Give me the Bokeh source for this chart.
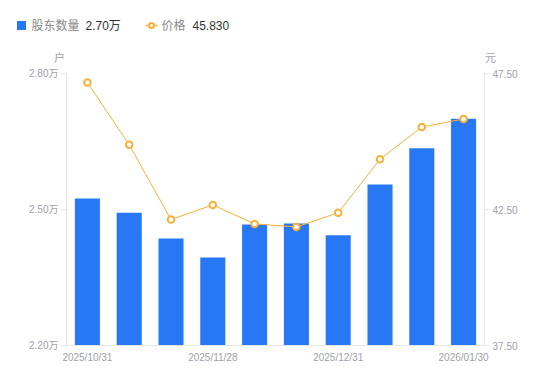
from bokeh.plotting import figure
from bokeh.layouts import column, row
from bokeh.models import (Range1d, LinearAxis, FixedTicker, CustomJSTickFormatter, ColumnDataSource)
from bokeh.core.properties import value
from bokeh.embed import file_html
from bokeh.resources import INLINE

# ---- data ----
holders = [2.524, 2.493, 2.436, 2.394, 2.467, 2.469, 2.443, 2.555, 2.635, 2.700]   # 万户
prices = [47.17, 44.88, 42.13, 42.67, 41.97, 41.86, 42.38, 44.35, 45.53, 45.83]    # 元
tick_positions = [0, 3, 6, 9]
tick_labels = ["2025/10/31", "2025/11/28", "2025/12/31", "2026/01/30"]
left_ticks = [2.20, 2.50, 2.80]
right_ticks = [37.50, 42.50, 47.50]
series_names = ["股东数量", "价格"]
legend_values = ["2.70万", "45.830"]
units = ["户", "元"]

BLUE = "#2878f5"
ORANGE = "#f9b03a"
AXIS = "#e6e6e6"
LABEL = "#a0a0aa"
FONT = "Liberation Sans, Noto Sans CJK SC"

W = 542
HEAD_H = 66

# ---------------- header (legend + unit labels) ----------------
h = figure(width=W, height=HEAD_H, output_backend="svg", toolbar_location=None,
           x_range=Range1d(0, W), y_range=Range1d(HEAD_H, 0),
           x_axis_type=None, y_axis_type=None, min_border=0)
h.outline_line_color = None
h.xgrid.grid_line_color = None
h.ygrid.grid_line_color = None

h.rect(x=[21], y=[25], width=9, height=9, fill_color=BLUE, line_color=None)
h.line(x=[145, 157], y=[25, 25], line_color=ORANGE, line_width=1.5)
h.scatter(x=[151], y=[25], size=5, marker="circle", fill_color="white",
          line_color=ORANGE, line_width=2)
h.text(x=[31, 161], y=[25, 25], text=series_names, text_font=value(FONT),
       text_font_size="12px", text_color="#8a8a8a", text_baseline="middle", text_align="left")
h.text(x=[85, 192], y=[25, 25], text=legend_values, text_font=value(FONT),
       text_font_size="12px", text_color="#333333", text_baseline="middle", text_align="left")
h.text(x=[59, 490], y=[57, 57], text=units, text_font=value(FONT),
       text_font_size="11px", text_color=LABEL, text_baseline="middle", text_align="center")

# ---------------- main chart ----------------
x = list(range(len(holders)))
src = ColumnDataSource(dict(x=x, holders=holders, prices=prices))

p = figure(width=W, height=373 - HEAD_H, output_backend="svg", toolbar_location=None,
           x_range=Range1d(-0.5, len(holders) - 0.5),
           y_range=Range1d(left_ticks[0], left_ticks[-1]),
           min_border_left=66, min_border_right=W - 484, min_border_top=7, min_border_bottom=28)
p.extra_y_ranges = {"price": Range1d(right_ticks[0], right_ticks[-1])}
p.outline_line_color = None
p.xgrid.grid_line_color = None
p.ygrid.grid_line_color = None

p.vbar(x="x", top="holders", bottom=left_ticks[0], width=0.6, source=src,
       fill_color=BLUE, line_color=None)
p.line("x", "prices", source=src, y_range_name="price", line_color=ORANGE, line_width=1)
p.scatter("x", "prices", source=src, y_range_name="price", size=6.5, marker="circle",
          fill_color="white", line_color=ORANGE, line_width=2)

def style_axis(ax):
    ax.axis_line_color = AXIS
    ax.major_tick_line_color = AXIS
    ax.minor_tick_line_color = None
    ax.major_tick_in = 0
    ax.major_tick_out = 5
    ax.major_label_text_color = LABEL
    ax.major_label_text_font = FONT
    ax.major_label_text_font_size = "10px"

xa = p.xaxis[0]
style_axis(xa)
xa.ticker = FixedTicker(ticks=tick_positions)
xa.major_label_overrides = {pos: lbl for pos, lbl in zip(tick_positions, tick_labels)}
xa.major_tick_line_color = None
xa.major_tick_out = 0
xa.major_label_standoff = 6

ya = p.yaxis[0]
style_axis(ya)
ya.ticker = FixedTicker(ticks=left_ticks)
ya.formatter = CustomJSTickFormatter(code="return tick.toFixed(2) + '万';")
ya.major_label_standoff = 3

ra = LinearAxis(y_range_name="price")
style_axis(ra)
ra.ticker = FixedTicker(ticks=right_ticks)
ra.formatter = CustomJSTickFormatter(code="return tick.toFixed(2);")
ra.major_label_standoff = 3
p.add_layout(ra, "right")

layout = column(row(h), row(p), spacing=0)
open("out.html", "w").write(file_html(layout, INLINE))
